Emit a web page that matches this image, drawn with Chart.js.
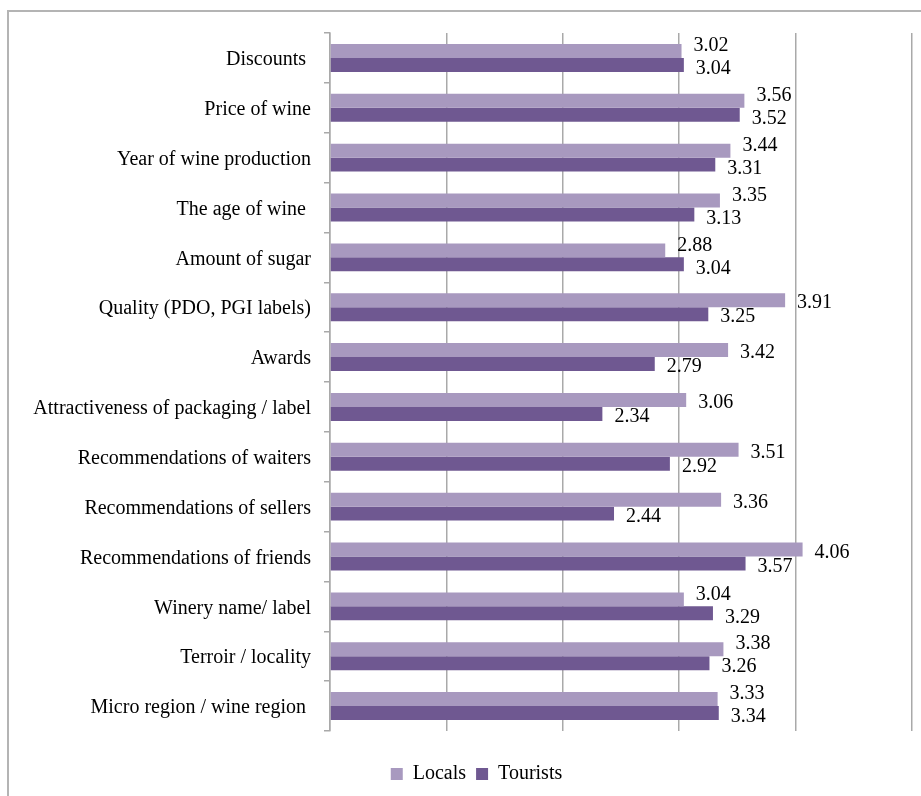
<!DOCTYPE html>
<html>
<head>
<meta charset="utf-8">
<script src="https://cdn.jsdelivr.net/npm/chart.js@4.4.1/dist/chart.umd.min.js"></script>
<style>
  html, body { margin: 0; padding: 0; background: #fff; overflow: hidden; width: 921px; height: 796px; }
  #frame { position: absolute; left: 7px; top: 10px; width: 930px; height: 800px; border: 2px solid #b4b4b4; background: #fff; }
  canvas { display: block; }
</style>
</head>
<body>
<div id="frame"><canvas id="chart" width="930" height="800"></canvas></div>
<script>
// Wine purchase factors: mean importance ratings
const categories = [
  'Discounts ',
  'Price of wine',
  'Year of wine production',
  'The age of wine ',
  'Amount of sugar',
  'Quality (PDO, PGI labels)',
  'Awards',
  'Attractiveness of packaging / label',
  'Recommendations of waiters',
  'Recommendations of sellers',
  'Recommendations of friends',
  'Winery name/ label',
  'Terroir / locality',
  'Micro region / wine region '
];
const locals   = [3.02, 3.56, 3.44, 3.35, 2.88, 3.91, 3.42, 3.06, 3.51, 3.36, 4.06, 3.04, 3.38, 3.33];
const tourists = [3.04, 3.52, 3.31, 3.13, 3.04, 3.25, 2.79, 2.34, 2.92, 2.44, 3.57, 3.29, 3.26, 3.34];
const seriesNames = ['Locals', 'Tourists'];
const xMin = 0, xMax = 5, xStep = 1;

const FONT = '"Liberation Serif", "Times New Roman", serif';
const GRID = '#a9a9a9';

// Value labels at the outer end of each bar; the upper label is lifted
// when the pair would collide horizontally.
const valueLabels = {
  id: 'valueLabels',
  afterDatasetsDraw(chart) {
    const ctx = chart.ctx;
    const m0 = chart.getDatasetMeta(0);
    const m1 = chart.getDatasetMeta(1);
    ctx.save();
    ctx.font = '20px ' + FONT;
    ctx.fillStyle = '#000';
    ctx.textAlign = 'left';
    ctx.textBaseline = 'middle';
    const gap = 12;
    m0.data.forEach((b0, i) => {
      const b1 = m1.data[i];
      const t0 = locals[i].toFixed(2);
      const t1 = tourists[i].toFixed(2);
      const x0 = b0.x + gap, x1 = b1.x + gap;
      const w0 = ctx.measureText(t0).width, w1 = ctx.measureText(t1).width;
      const clash = x1 < x0 + w0 && x0 < x1 + w1;
      ctx.fillText(t0, x0, b0.y + (clash ? -5 : 3));
      ctx.fillText(t1, x1, b1.y + (clash ? 4 : 3));
    });
    ctx.restore();
  }
};

// Centre the legend under the whole frame rather than the padded box.
const legendShift = {
  id: 'legendShift',
  afterLayout(chart) {
    if (chart.legend) {
      chart.legend.left += 7;
      chart.legend.right += 7;
    }
  }
};

new Chart(document.getElementById('chart'), {
  type: 'bar',
  data: {
    labels: categories,
    datasets: [
      { label: seriesNames[0], data: locals,   backgroundColor: '#a899bf', borderWidth: 0 },
      { label: seriesNames[1], data: tourists, backgroundColor: '#6f5891', borderWidth: 0 }
    ]
  },
  options: {
    indexAxis: 'y',
    responsive: false,
    animation: false,
    events: [],
    datasets: { bar: { categoryPercentage: 0.56, barPercentage: 1.0 } },
    layout: { padding: { left: 18, right: 27, top: 21, bottom: 18 } },
    scales: {
      x: {
        min: xMin, max: xMax,
        ticks: { display: false, stepSize: xStep },
        grid: { color: GRID, lineWidth: 1.5, drawTicks: false },
        border: { display: false },
        afterFit(scale) { scale.height = 23; }
      },
      y: {
        ticks: { color: '#000', font: { family: FONT, size: 20 }, padding: 13, autoSkip: false, labelOffset: 2 },
        grid: { color: GRID, lineWidth: 1.5, drawOnChartArea: false, drawTicks: true, tickLength: 6, offset: true },
        border: { display: true, color: GRID, width: 1.5 },
        afterFit(scale) {
          scale.width = 303;
          scale.paddingTop = 0;
          scale.paddingBottom = 0;
        }
      }
    },
    plugins: {
      legend: {
        position: 'bottom',
        labels: {
          color: '#000',
          font: { family: FONT, size: 20 },
          boxWidth: 12, boxHeight: 12, padding: 10
        }
      },
      tooltip: { enabled: false }
    }
  },
  plugins: [valueLabels, legendShift]
});
</script>
</body>
</html>
